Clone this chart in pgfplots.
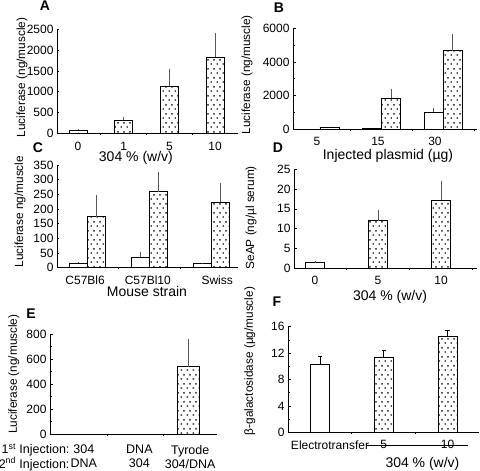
\documentclass[border=0pt]{standalone}
\usepackage{fontspec}
\setmainfont{Liberation Sans}
\usepackage{pgfplots}
\pgfplotsset{compat=1.18}
\usetikzlibrary{patterns}

\pgfdeclarepatternformonly{mydots}{\pgfpointorigin}{\pgfpoint{6pt}{9pt}}{\pgfpoint{6pt}{9pt}}{%
 \pgfpathrectangle{\pgfpoint{0.8pt}{1.5pt}}{\pgfpoint{1.5pt}{1.5pt}}%
 \pgfpathrectangle{\pgfpoint{3.8pt}{6pt}}{\pgfpoint{1.5pt}{1.5pt}}%
 \pgfusepath{fill}}

\pgfplotsset{
 panel/.style={
  scale only axis, anchor=south west,
  axis x line*=bottom, axis y line*=left,
  axis line style={-, line width=0.8pt},
  tick align=inside,
  major tick length=2.5pt, minor tick length=1.8pt,
  every tick/.style={black, line width=0.6pt},
  major x tick style={draw=none},
  minor xtick={0.5,1.5,2.5},
  minor x tick style={line width=0.8pt},
  ymin=0,
  tick label style={font=\fontsize{12}{13.5}\selectfont},
  xticklabel style={yshift=-2pt},
  /pgf/number format/assume math mode=true,
  /pgf/number format/1000 sep={},
  ylabel style={font=\fontsize{11.8}{13}\selectfont},
  xlabel style={font=\fontsize{14}{15}\selectfont, inner sep=0pt},
  ybar=0pt,
  clip=false,
 },
 wbar/.style={draw=black, fill=white, line width=0.6pt,
   error bars/y dir=plus, error bars/y explicit, error bars/error mark=none,
   error bars/error bar style={black!65, line width=0.6pt}},
 dbar/.style={draw=black, pattern=mydots, line width=0.6pt,
   error bars/y dir=plus, error bars/y explicit, error bars/error mark=none,
   error bars/error bar style={black!65, line width=0.6pt}},
}

\begin{document}
\begin{tikzpicture}
\path[use as bounding box] (0,0) rectangle (480pt,471pt);

% ---------- A ----------
\begin{axis}[panel, at={(57pt,337.7pt)}, width=181pt, height=104pt,
  xmin=-0.46, xmax=3.5, ymax=2500, ytick={0,500,...,2500},
  xtick={0,1,2,3}, xticklabels={0,1,5,10}, bar width=18pt,
  minor xtick={0.5,1.5,2.5},
  xticklabel style={inner sep=1pt, yshift=-3pt},
  ylabel={Luciferase (ng/muscle)},
  ylabel style={at={(axis description cs:-0.193,0.537)}, anchor=center},
  xlabel={304 \% (w/v)},
  xlabel style={at={(axis description cs:0.436,-0.238)}, anchor=center}]
\addplot[wbar, bar shift=0pt] coordinates {(0,80) +- (0,20)};
\addplot[dbar, bar shift=0pt] coordinates {(1,320) +- (0,65) (2,1138) +- (0,408) (3,1827) +- (0,577)};
\end{axis}

% ---------- B ----------
\begin{axis}[panel, at={(293pt,341.7pt)}, width=184pt, height=101pt,
  xmin=-0.438, xmax=2.547, ymax=6000, ytick={0,2000,4000,6000},
  minor ytick={1000,3000,5000},
  xtick={-0.05,0.94,1.865}, xticklabels={5,15,30}, bar width=19pt,
  ylabel={Luciferase (ng/muscle)},
  ylabel style={at={(axis description cs:-0.25,0.54)}, anchor=center},
  xlabel={Injected plasmid (µg)},
  xlabel style={at={(axis description cs:0.516,-0.264)}, anchor=center}]
\addplot[wbar] coordinates {(0,0) (1,50) (2,1010) +- (0,250)};
\addplot[dbar] coordinates {(0,140) (1,1840) +- (0,560) (2,4670) +- (0,990)};
\end{axis}

% ---------- C ----------
\begin{axis}[panel, at={(57pt,203.3pt)}, width=181pt, height=102.7pt,
  xmin=-0.484, xmax=2.435, ymax=350, ytick={0,50,...,350},
  xtick={-0.03,0.98,2.1}, xticklabels={C57Bl6,C57Bl10,Swiss}, bar width=18pt,
  ylabel={Luciferase ng/muscle},
  ylabel style={at={(axis description cs:-0.204,0.545)}, anchor=center},
  xlabel={Mouse strain},
  xlabel style={at={(axis description cs:0.497,-0.232)}, anchor=center}]
\addplot[wbar] coordinates {(0,16) +- (0,4) (1,35) +- (0,18) (2,15) +- (0,2)};
\addplot[dbar] coordinates {(0,174) +- (0,74) (1,259) +- (0,68) (2,223) +- (0,67)};
\end{axis}

% ---------- D ----------
\begin{axis}[panel, at={(294pt,202.7pt)}, width=183pt, height=99pt,
  xmin=-0.333, xmax=2.571, ymax=25, ytick={0,5,...,25},
  xtick={0,1,2}, xticklabels={0,5,10}, bar width=19pt,
  ylabel={SeAP (ng/µl serum)},
  ylabel style={at={(axis description cs:-0.235,0.51)}, anchor=center},
  xlabel={304 \% (w/v)},
  xlabel style={at={(axis description cs:0.525,-0.29)}, anchor=center}]
\addplot[wbar, bar shift=0pt] coordinates {(0,1.43) +- (0,0.4)};
\addplot[dbar, bar shift=0pt] coordinates {(1,12.0) +- (0,2.8) (2,17.2) +- (0,4.9)};
\end{axis}

% ---------- E ----------
\begin{axis}[panel, at={(50pt,37pt)}, width=167pt, height=99.7pt,
  xmin=-0.556, xmax=2.537, ymax=800, ytick={0,200,...,800},
  minor ytick={100,300,500,700},
  minor xtick={0.5,1.54},
  xtick={0.07,1.1,2.04}, xticklabels={{304\\DNA},{DNA\\304},{Tyrode\\304/DNA}},
  xticklabel style={align=center, font=\fontsize{12.5}{14}\selectfont, yshift=-3pt},
  bar width=22pt,
  ylabel={Luciferase (ng/muscle)},
  ylabel style={at={(axis description cs:-0.216,0.60)}, anchor=center}]
\addplot[dbar, bar shift=0pt] coordinates {(2,540) +- (0,219)};
\end{axis}
\node[anchor=east, font=\fontsize{12.5}{14}\selectfont] at (73pt,21pt) {1\textsuperscript{st} Injection:};
\node[anchor=east, font=\fontsize{12.5}{14}\selectfont] at (73pt,7pt) {2\textsuperscript{nd} Injection:};

% ---------- F ----------
\begin{axis}[panel, at={(288pt,38.7pt)}, width=191pt, height=105.6pt,
  xmin=-0.502, xmax=2.494, ymax=16, ytick={0,4,...,16},
  minor ytick={2,6,10,14},
  xtick={0.157,1,2}, xticklabels={Electrotransfer,5,10}, bar width=19pt,
  ylabel={β-galactosidase (µg/muscle)},
  ylabel style={at={(axis description cs:-0.2,0.675)}, anchor=center}]
\addplot[wbar, bar shift=0pt, line width=0.9pt, error bars/error mark=-,
  error bars/error mark options={rotate=90, mark size=2.2pt, line width=0.9pt},
  error bars/error bar style={black, line width=0.9pt}] coordinates {(0,10.35) +- (0,1.1)};
\addplot[dbar, bar shift=0pt, line width=0.9pt, error bars/error mark=-,
  error bars/error mark options={rotate=90, mark size=2.2pt, line width=0.9pt},
  error bars/error bar style={black, line width=0.9pt}] coordinates {(1,11.4) +- (0,1.0) (2,14.5) +- (0,0.95)};
\draw[line width=0.7pt] (rel axis cs:0.414,-0.127) -- (rel axis cs:0.942,-0.127);
\node[font=\fontsize{14}{15}\selectfont] at (rel axis cs:0.704,-0.30) {304 \% (w/v)};
\end{axis}

% panel letters
\foreach \l/\x/\y in {A/45/6, B/279/7.5, C/38/148, D/278/148, E/31/314, F/277/302}
  \node[font=\bfseries\fontsize{14}{16}\selectfont] at (\x pt, 471pt-\y pt) {\l};
\end{tikzpicture}
\end{document}
